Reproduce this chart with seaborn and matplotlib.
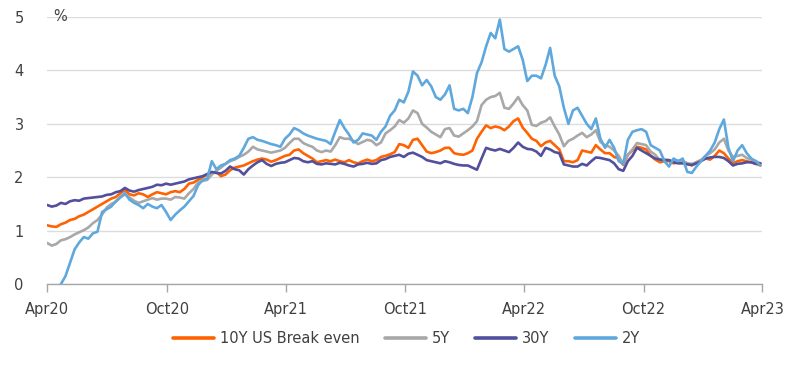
import numpy as np
import pandas as pd
import matplotlib
matplotlib.use("Agg")
import matplotlib.pyplot as plt
import matplotlib.dates as mdates
import seaborn as sns

# Weekly observations, Apr 2020 - Mar 2023
dates = pd.date_range("2020-04-01", periods=157, freq="7D")

be_10y = [
    1.10, 1.08, 1.07, 1.12, 1.15, 1.20, 1.22, 1.27, 1.30, 1.35,
    1.40, 1.45, 1.50, 1.55, 1.60, 1.63, 1.70, 1.76, 1.68, 1.66,
    1.70, 1.68, 1.63, 1.68, 1.72, 1.70, 1.68, 1.72, 1.74, 1.72,
    1.78, 1.88, 1.90, 1.95, 2.00, 2.05, 2.08, 2.10, 2.02, 2.05,
    2.13, 2.18, 2.20, 2.22, 2.26, 2.30, 2.33, 2.35, 2.33, 2.29,
    2.32, 2.36, 2.40, 2.42, 2.50, 2.52, 2.45, 2.40, 2.35, 2.28,
    2.30, 2.32, 2.30, 2.33, 2.30, 2.28, 2.32, 2.28, 2.26, 2.30,
    2.33, 2.30, 2.32, 2.38, 2.40, 2.43, 2.47, 2.62, 2.60, 2.55,
    2.70, 2.72, 2.60, 2.48, 2.45, 2.47, 2.50, 2.55, 2.55, 2.45,
    2.43, 2.42, 2.45, 2.50, 2.72, 2.85, 2.97, 2.92, 2.95, 2.93,
    2.88, 2.95, 3.05, 3.10, 2.93, 2.83, 2.72, 2.68, 2.58, 2.65,
    2.68, 2.60, 2.52, 2.30, 2.30, 2.28, 2.32, 2.50, 2.48, 2.46,
    2.60, 2.52, 2.45, 2.45, 2.38, 2.35, 2.23, 2.42, 2.50, 2.57,
    2.55, 2.52, 2.40, 2.33, 2.28, 2.30, 2.30, 2.26, 2.28, 2.30,
    2.26, 2.22, 2.28, 2.32, 2.35, 2.33, 2.40, 2.50, 2.45, 2.35,
    2.26, 2.30, 2.32, 2.30, 2.28, 2.25, 2.22,
]

be_5y = [
    0.77, 0.72, 0.75, 0.82, 0.84, 0.88, 0.93, 0.97, 1.01, 1.06,
    1.14, 1.20, 1.30, 1.43, 1.50, 1.54, 1.62, 1.68, 1.62, 1.56,
    1.52, 1.55, 1.58, 1.61, 1.58, 1.60, 1.60, 1.58, 1.63, 1.62,
    1.60, 1.70, 1.78, 1.90, 1.93, 1.95, 2.05, 2.12, 2.18, 2.25,
    2.30, 2.33, 2.38, 2.42, 2.48, 2.57, 2.52, 2.50, 2.48, 2.46,
    2.48, 2.50, 2.55, 2.64, 2.72, 2.72, 2.64, 2.60, 2.57, 2.50,
    2.47, 2.50, 2.48, 2.60, 2.75, 2.72, 2.72, 2.68, 2.62, 2.66,
    2.70, 2.68, 2.60, 2.65, 2.82, 2.88, 2.95, 3.07, 3.02, 3.10,
    3.25, 3.20, 3.00, 2.93, 2.85, 2.80, 2.75, 2.90, 2.92, 2.78,
    2.76, 2.82, 2.88, 2.95, 3.05, 3.35, 3.45, 3.50, 3.52, 3.58,
    3.30, 3.28, 3.38, 3.50, 3.35, 3.25, 2.98, 2.96, 3.02, 3.05,
    3.12, 2.95, 2.80, 2.58, 2.68, 2.72, 2.78, 2.83, 2.75, 2.80,
    2.88, 2.66, 2.60, 2.57, 2.50, 2.40, 2.25, 2.42, 2.52, 2.64,
    2.62, 2.60, 2.48, 2.42, 2.32, 2.33, 2.32, 2.30, 2.31, 2.30,
    2.26, 2.25, 2.28, 2.32, 2.40, 2.45, 2.52, 2.65, 2.72, 2.50,
    2.38, 2.40, 2.42, 2.36, 2.33, 2.30, 2.26,
]

be_30y = [
    1.48, 1.45, 1.47, 1.52, 1.50, 1.55, 1.57, 1.56, 1.60, 1.61,
    1.62, 1.63, 1.64, 1.67, 1.68, 1.72, 1.74, 1.80, 1.75, 1.73,
    1.76, 1.78, 1.80, 1.82, 1.86, 1.85, 1.88, 1.86, 1.88, 1.90,
    1.92, 1.96, 1.98, 2.00, 2.02, 2.06, 2.10, 2.08, 2.07, 2.12,
    2.20, 2.15, 2.13, 2.05, 2.15, 2.22, 2.28, 2.32, 2.25, 2.21,
    2.25, 2.27, 2.28, 2.32, 2.36, 2.35, 2.30, 2.28, 2.30, 2.25,
    2.24, 2.26, 2.25, 2.24, 2.27, 2.25, 2.22, 2.20, 2.24, 2.25,
    2.27, 2.25, 2.26, 2.32, 2.34, 2.38, 2.40, 2.42, 2.38, 2.44,
    2.46, 2.42, 2.38, 2.32, 2.30, 2.28, 2.26, 2.30, 2.28, 2.25,
    2.23, 2.22, 2.22, 2.18, 2.14, 2.35, 2.55, 2.52, 2.50, 2.53,
    2.50, 2.47, 2.55, 2.65, 2.57, 2.53, 2.52, 2.48, 2.40, 2.55,
    2.52, 2.47, 2.45, 2.24, 2.22, 2.20, 2.20, 2.25, 2.22, 2.30,
    2.37, 2.36, 2.34, 2.32, 2.26, 2.15, 2.12, 2.30, 2.40, 2.55,
    2.50, 2.45, 2.40, 2.35, 2.33, 2.32, 2.32, 2.28, 2.26, 2.26,
    2.24, 2.23, 2.26, 2.30, 2.35, 2.37, 2.38, 2.38, 2.36, 2.30,
    2.22, 2.25, 2.26, 2.28, 2.28, 2.25, 2.26,
]

be_2y = [
    -0.50, -0.30, -0.10, 0.00, 0.15, 0.40, 0.65, 0.78, 0.88, 0.85,
    0.95, 0.98, 1.35, 1.40, 1.45, 1.55, 1.63, 1.70, 1.58, 1.52,
    1.48, 1.42, 1.50, 1.45, 1.42, 1.48, 1.35, 1.20, 1.30, 1.38,
    1.45, 1.55, 1.65, 1.85, 1.95, 1.97, 2.30, 2.15, 2.22, 2.25,
    2.32, 2.35, 2.40, 2.55, 2.72, 2.75, 2.70, 2.68, 2.65, 2.62,
    2.60, 2.57, 2.72, 2.80, 2.92, 2.88, 2.82, 2.78, 2.75, 2.72,
    2.70, 2.68, 2.62, 2.85, 3.07, 2.92, 2.80, 2.65, 2.70, 2.82,
    2.80, 2.78, 2.70, 2.85, 2.95, 3.15, 3.25, 3.45, 3.40, 3.60,
    3.98, 3.90, 3.72, 3.82, 3.70, 3.50, 3.45, 3.55, 3.72, 3.28,
    3.25, 3.28, 3.20, 3.50, 3.95, 4.15, 4.45, 4.70, 4.60, 4.95,
    4.40, 4.35, 4.40, 4.45, 4.20, 3.80, 3.90, 3.90, 3.85, 4.10,
    4.42, 3.90, 3.70, 3.30, 3.00, 3.25, 3.30, 3.15, 3.00, 2.90,
    3.10, 2.72, 2.55, 2.70, 2.55, 2.30, 2.25, 2.70, 2.85, 2.88,
    2.90, 2.85, 2.60, 2.55, 2.50, 2.30, 2.20, 2.35, 2.30, 2.35,
    2.10, 2.08, 2.20, 2.30, 2.40, 2.50, 2.65, 2.90, 3.08, 2.55,
    2.30, 2.50, 2.60, 2.45, 2.35, 2.30, 2.22,
]

series_names = ["10Y US Break even", "5Y", "30Y", "2Y"]
colors = ["#FF6200", "#A8A8A8", "#524F9C", "#5FA8DD"]
tick_dates = pd.to_datetime(["2020-04-01", "2020-10-01", "2021-04-01", "2021-10-01",
                             "2022-04-01", "2022-10-01", "2023-04-01"])
y_ticks = [0, 1, 2, 3, 4, 5]

df = pd.DataFrame({"date": dates, series_names[0]: be_10y, series_names[1]: be_5y,
                   series_names[2]: be_30y, series_names[3]: be_2y})
long = df.melt(id_vars="date", var_name="series", value_name="value")

sns.set_theme(style="white")
plt.rcParams["font.family"] = ["DejaVu Sans"]
text_color = "#404040"
fs = 10.5

fig = plt.figure(figsize=(8, 3.68), dpi=100)
ax = fig.add_axes([0.059, 0.228, 0.894, 0.726])

sns.lineplot(data=long, x="date", y="value", hue="series", hue_order=series_names,
             palette=dict(zip(series_names, colors)), linewidth=1.9, ax=ax)

ax.set_xlim(pd.Timestamp("2020-04-01"), pd.Timestamp("2023-04-01"))
ax.set_ylim(0, 5)
ax.set_yticks(y_ticks)
ax.set_xticks(tick_dates)
ax.xaxis.set_major_formatter(mdates.DateFormatter("%b%y"))
ax.set_xlabel("")
ax.set_ylabel("")

ax.grid(axis="y", color="#DCDCDC", linewidth=1.0)
ax.set_axisbelow(True)
for s in ["left", "right", "top"]:
    ax.spines[s].set_visible(False)
ax.spines["bottom"].set_color("#A6A6A6")
ax.spines["bottom"].set_linewidth(1.0)
ax.tick_params(axis="x", length=6, width=1.0, color="#A6A6A6", direction="out",
               pad=7, labelsize=fs, labelcolor=text_color, bottom=True)
ax.tick_params(axis="y", length=0, pad=17, labelsize=fs, labelcolor=text_color)

ax.text(0.008, 1.0, "%", transform=ax.transAxes, ha="left", va="center",
        fontsize=fs, color=text_color)

handles, labels = ax.get_legend_handles_labels()
ax.get_legend().remove()
for h in handles:
    h.set_linewidth(2.6)
fig.legend(handles, labels, loc="center", bbox_to_anchor=(0.508, 0.079), ncol=4,
           frameon=False, fontsize=fs, handlelength=2.8, handletextpad=0.4,
           columnspacing=1.75, labelcolor=text_color)

fig.savefig("out.png", dpi=100)
